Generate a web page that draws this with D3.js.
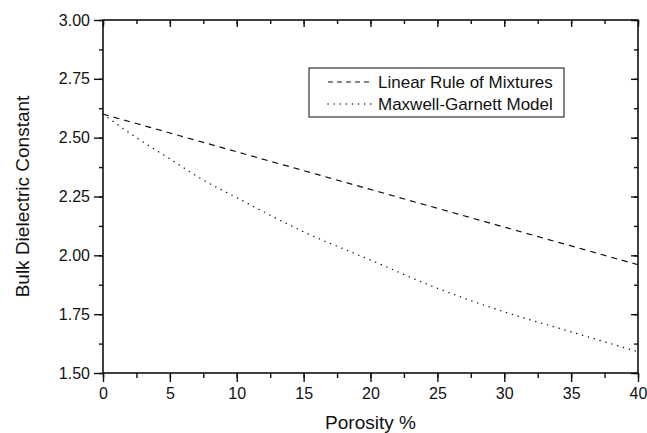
<!DOCTYPE html>
<html>
<head>
<meta charset="utf-8">
<script src="https://cdn.jsdelivr.net/npm/d3@7"></script>
<style>
  body { margin: 0; background: #fff; }
  text { font-family: "Liberation Sans", Arial, sans-serif; fill: #111; }
</style>
</head>
<body>
<div id="chart"></div>
<script>
// data
var porosity = [0, 2.5, 5, 7.5, 10, 15, 20, 25, 30, 35, 40];
var linearRule = [2.60, 2.56, 2.52, 2.48, 2.44, 2.36, 2.28, 2.20, 2.12, 2.04, 1.96];
var maxwellGarnett = [2.60, 2.50, 2.41, 2.32, 2.245, 2.10, 1.98, 1.86, 1.76, 1.675, 1.59];
var seriesNames = ["Linear Rule of Mixtures", "Maxwell-Garnett Model"];
var xTicks = [0, 5, 10, 15, 20, 25, 30, 35, 40];
var yTicks = [1.50, 1.75, 2.00, 2.25, 2.50, 2.75, 3.00];

var W = 647, H = 433;
var margin = { top: 20, right: 9, bottom: 60, left: 103 };
var width = W - margin.left - margin.right,
    height = H - margin.top - margin.bottom;

var svg = d3.select("#chart").append("svg")
    .attr("width", W)
    .attr("height", H);

var g = svg.append("g")
    .attr("transform", "translate(" + margin.left + "," + margin.top + ")");

var x = d3.scaleLinear().domain([0, 40]).range([0, width]);
var y = d3.scaleLinear().domain([1.5, 3.0]).range([height, 0]);

var xMinor = d3.range(0, 40.01, 2.5);
var yMinor = d3.range(1.5, 3.001, 0.125);

// bottom axis (outward ticks)
var bottomAxis = g.append("g").attr("transform", "translate(0," + height + ")");
bottomAxis.call(d3.axisBottom(x).tickValues(xMinor).tickSize(5).tickFormat(""));
bottomAxis.append("g").call(d3.axisBottom(x).tickValues(xTicks).tickSize(9).tickPadding(6).tickFormat(d3.format("d")));

// left axis (outward ticks)
var leftAxis = g.append("g");
leftAxis.call(d3.axisLeft(y).tickValues(yMinor).tickSize(4).tickFormat(""));
leftAxis.append("g").call(d3.axisLeft(y).tickValues(yTicks).tickSize(9).tickPadding(4).tickFormat(d3.format(".2f")));

// top and right mirror axes (inward ticks)
var topAxis = g.append("g");
topAxis.call(d3.axisTop(x).tickValues(xMinor).tickSize(-4).tickFormat(""));
topAxis.append("g").call(d3.axisTop(x).tickValues(xTicks).tickSize(-7).tickFormat(""));

var rightAxis = g.append("g").attr("transform", "translate(" + width + ",0)");
rightAxis.call(d3.axisRight(y).tickValues(yMinor).tickSize(-4).tickFormat(""));
rightAxis.append("g").call(d3.axisRight(y).tickValues(yTicks).tickSize(-7).tickFormat(""));

g.selectAll(".domain").remove();
g.selectAll(".tick line").attr("stroke", "#111").attr("stroke-width", 1.4);
g.selectAll(".tick text")
    .style("font-family", "'Liberation Sans', Arial, sans-serif")
    .style("font-size", "16px")
    .attr("fill", "#111");

// frame
g.append("rect")
    .attr("x", 0).attr("y", 0)
    .attr("width", width).attr("height", height)
    .attr("fill", "none")
    .attr("stroke", "#111")
    .attr("stroke-width", 1.6);

// curves
var line = d3.line()
    .x(function (d) { return x(d[0]); })
    .y(function (d) { return y(d[1]); })
    .curve(d3.curveMonotoneX);

g.append("path")
    .datum(porosity.map(function (p, i) { return [p, linearRule[i]]; }))
    .attr("d", line)
    .attr("fill", "none")
    .attr("stroke", "#111")
    .attr("stroke-width", 1.2)
    .attr("stroke-dasharray", "6,5");

g.append("path")
    .datum(porosity.map(function (p, i) { return [p, maxwellGarnett[i]]; }))
    .attr("d", line)
    .attr("fill", "none")
    .attr("stroke", "#111")
    .attr("stroke-width", 1.4)
    .attr("stroke-linecap", "round")
    .attr("stroke-dasharray", "0.1,6");

// legend
var legend = svg.append("g").attr("transform", "translate(309,68)");
legend.append("rect")
    .attr("x", 0).attr("y", 0)
    .attr("width", 255).attr("height", 49)
    .attr("fill", "#fff")
    .attr("stroke", "#222")
    .attr("stroke-width", 1.1);

var dashes = ["5,4", "0.1,6"];
seriesNames.forEach(function (name, i) {
    var ly = 14 + i * 22;
    legend.append("line")
        .attr("x1", 19).attr("x2", 64)
        .attr("y1", ly).attr("y2", ly)
        .attr("stroke", "#111")
        .attr("stroke-width", i == 0 ? 1.2 : 1.4)
        .attr("stroke-linecap", i == 0 ? "butt" : "round")
        .attr("stroke-dasharray", dashes[i]);
    legend.append("text")
        .attr("x", 69)
        .attr("y", ly)
        .attr("dy", "0.35em")
        .style("font-size", "17px")
        .text(name);
});

// axis titles
svg.append("text")
    .attr("x", margin.left + width / 2)
    .attr("y", 429)
    .attr("text-anchor", "middle")
    .style("font-size", "19px")
    .text("Porosity %");

svg.append("text")
    .attr("transform", "translate(29," + (margin.top + height / 2) + ") rotate(-90)")
    .attr("text-anchor", "middle")
    .style("font-size", "19px")
    .text("Bulk Dielectric Constant");
</script>
</body>
</html>
